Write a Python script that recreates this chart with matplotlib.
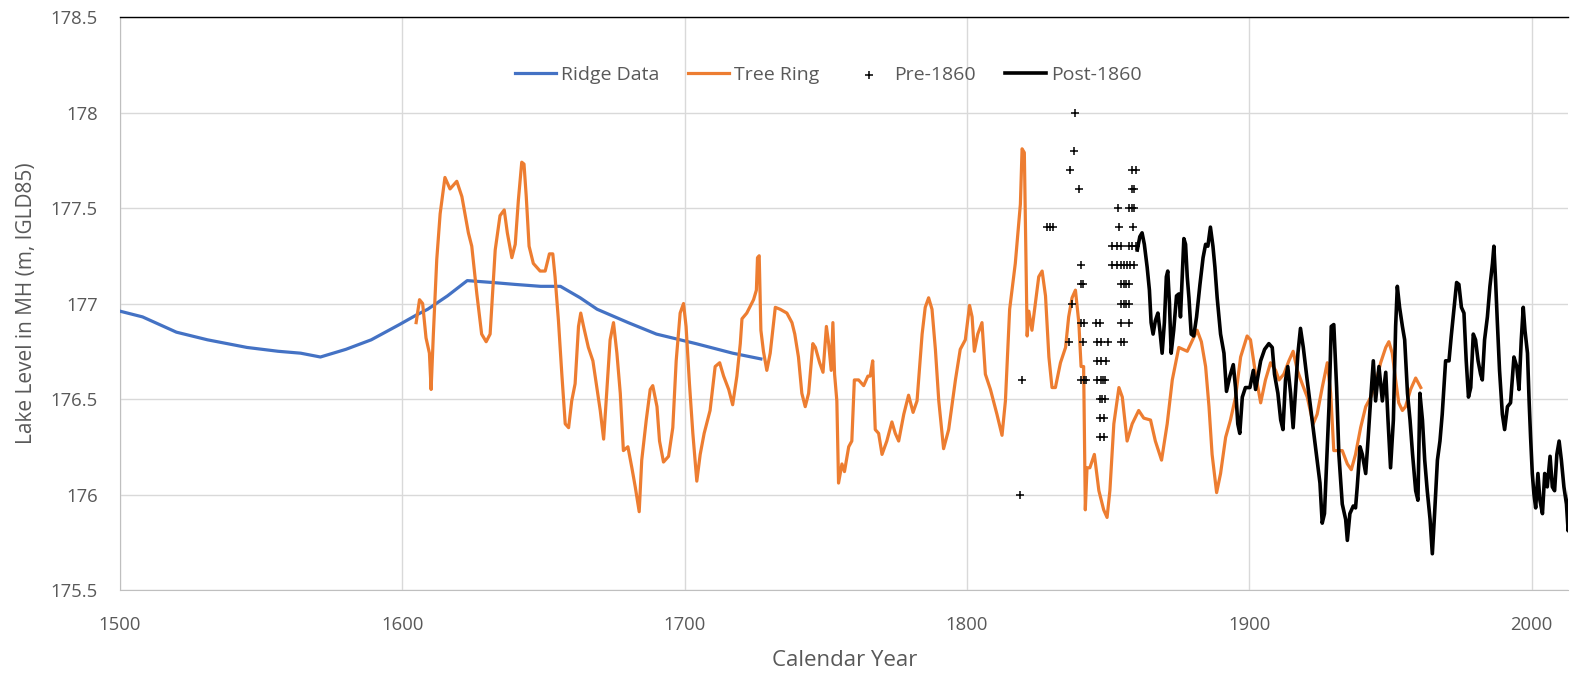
import matplotlib
matplotlib.use("Agg")
import matplotlib.pyplot as plt
from matplotlib.ticker import FuncFormatter

# ---------------- data ----------------
ridge_years = [1500, 1508, 1520, 1531, 1545, 1556, 1564, 1571, 1580, 1589, 1599, 1605, 1609,
               1616, 1623, 1632, 1640, 1649, 1656, 1663, 1669, 1680, 1690, 1704, 1717, 1727]
ridge_vals = [176.96, 176.93, 176.85, 176.81, 176.77, 176.75, 176.74, 176.72, 176.76, 176.81,
              176.89, 176.94, 176.97, 177.04, 177.12, 177.11, 177.10, 177.09, 177.09, 177.03,
              176.97, 176.90, 176.84, 176.79, 176.74, 176.71]

tree_years = [1604.9, 1606.1, 1607.2, 1608.4, 1609.6, 1610.2, 1611.0, 1612.2, 1613.4, 1615.1,
              1616.9, 1619.3, 1621.1, 1623.4, 1624.6, 1626.4, 1628.1, 1629.7, 1631.1, 1632.9,
              1634.6, 1636.1, 1637.2, 1638.8, 1640.0, 1641.1, 1642.3, 1643.1, 1643.9, 1644.9,
              1646.4, 1648.8, 1650.6, 1652.1, 1653.3, 1654.1, 1655.3, 1656.5, 1657.7, 1658.9,
              1660.0, 1661.2, 1662.4, 1663.2, 1664.2, 1665.9, 1667.5, 1668.9, 1670.1, 1671.3,
              1672.2, 1673.6, 1674.8, 1676.0, 1677.2, 1678.3, 1679.9, 1681.3, 1682.5, 1683.9,
              1684.8, 1686.4, 1687.8, 1688.7, 1690.2, 1691.1, 1692.5, 1694.3, 1695.8, 1697.0,
              1698.4, 1699.6, 1700.5, 1701.7, 1702.9, 1704.3, 1705.5, 1706.9, 1709.0, 1710.8,
              1712.4, 1713.8, 1715.6, 1717.0, 1718.5, 1719.7, 1720.3, 1722.0, 1724.4, 1725.4,
              1725.8, 1726.4, 1727.0, 1727.9, 1729.1, 1730.3, 1732.1, 1733.8, 1736.2, 1738.0,
              1739.0, 1740.3, 1741.5, 1742.7, 1743.9, 1745.4, 1746.3, 1747.8, 1749.0, 1750.2,
              1751.0, 1751.9, 1752.5, 1753.1, 1753.9, 1754.5, 1755.7, 1756.6, 1758.1, 1759.2,
              1760.1, 1761.6, 1763.4, 1764.9, 1765.7, 1766.6, 1767.5, 1768.7, 1769.9, 1771.6,
              1773.4, 1774.6, 1775.8, 1777.6, 1779.3, 1780.9, 1782.3, 1784.1, 1785.2, 1786.4,
              1787.6, 1788.8, 1790.0, 1791.7, 1793.5, 1795.9, 1797.6, 1799.4, 1800.9, 1801.8,
              1802.6, 1803.8, 1805.3, 1806.5, 1808.3, 1810.6, 1812.4, 1813.6, 1815.1, 1817.1,
              1818.9, 1819.5, 1820.3, 1820.7, 1821.3, 1821.9, 1823.0, 1824.2, 1825.4, 1826.6,
              1827.8, 1829.0, 1830.1, 1831.3, 1833.1, 1834.9, 1836.0, 1837.2, 1838.4, 1839.6,
              1840.4, 1841.3, 1841.9, 1842.5, 1843.5, 1845.1, 1846.7, 1848.4, 1849.6, 1850.6,
              1852.0, 1853.8, 1855.0, 1856.7, 1858.5, 1860.8, 1862.6, 1865.0, 1866.7, 1868.9,
              1870.9, 1872.7, 1875.0, 1878.0, 1881.5, 1883.0, 1884.5, 1885.7, 1886.8, 1888.4,
              1889.8, 1891.6, 1893.3, 1895.1, 1896.9, 1899.2, 1900.4, 1902.2, 1904.0, 1905.7,
              1907.5, 1909.3, 1910.5, 1912.2, 1914.0, 1915.5, 1917.0, 1918.7, 1920.5, 1922.6,
              1924.0, 1925.8, 1927.6, 1928.8, 1929.9, 1931.1, 1932.9, 1934.7, 1936.1, 1937.6,
              1939.4, 1941.2, 1943.0, 1944.7, 1946.5, 1948.3, 1949.4, 1950.6, 1951.8, 1952.9,
              1954.2, 1955.3, 1957.1, 1958.9, 1960.7]
tree_vals = [176.90, 177.02, 177.00, 176.82, 176.74, 176.55, 176.84, 177.23, 177.47, 177.66,
             177.60, 177.64, 177.56, 177.37, 177.30, 177.05, 176.84, 176.80, 176.84, 177.28,
             177.46, 177.49, 177.37, 177.24, 177.31, 177.54, 177.74, 177.73, 177.56, 177.30,
             177.21, 177.17, 177.17, 177.26, 177.26, 177.14, 176.91, 176.63, 176.37, 176.35,
             176.49, 176.58, 176.88, 176.95, 176.88, 176.77, 176.70, 176.56, 176.44, 176.29,
             176.49, 176.81, 176.90, 176.74, 176.53, 176.23, 176.25, 176.14, 176.04, 175.91,
             176.18, 176.39, 176.55, 176.57, 176.46, 176.28, 176.17, 176.20, 176.35, 176.70,
             176.95, 177.00, 176.88, 176.58, 176.32, 176.07, 176.21, 176.32, 176.44, 176.67,
             176.69, 176.62, 176.55, 176.47, 176.62, 176.79, 176.92, 176.95, 177.02, 177.07,
             177.24, 177.25, 176.86, 176.75, 176.65, 176.74, 176.98, 176.97, 176.95, 176.90,
             176.84, 176.72, 176.53, 176.46, 176.53, 176.79, 176.77, 176.69, 176.64, 176.88,
             176.79, 176.65, 176.90, 176.63, 176.49, 176.06, 176.16, 176.12, 176.25, 176.28,
             176.60, 176.60, 176.57, 176.62, 176.62, 176.70, 176.34, 176.32, 176.21, 176.28,
             176.38, 176.32, 176.28, 176.42, 176.52, 176.43, 176.49, 176.84, 176.98, 177.03,
             176.97, 176.76, 176.49, 176.24, 176.34, 176.60, 176.76, 176.81, 176.99, 176.93,
             176.75, 176.84, 176.90, 176.63, 176.55, 176.42, 176.31, 176.49, 176.97, 177.21,
             177.52, 177.81, 177.79, 177.42, 176.83, 176.96, 176.86, 177.00, 177.14, 177.17,
             177.04, 176.72, 176.56, 176.56, 176.69, 176.77, 176.93, 177.03, 177.07, 176.90,
             176.67, 176.67, 175.92, 176.14, 176.14, 176.21, 176.02, 175.92, 175.88, 176.02,
             176.37, 176.56, 176.51, 176.28, 176.37, 176.44, 176.40, 176.39, 176.28, 176.18,
             176.37, 176.60, 176.77, 176.75, 176.86, 176.80, 176.67, 176.46, 176.21, 176.01,
             176.11, 176.30, 176.39, 176.51, 176.72, 176.83, 176.81, 176.63, 176.48, 176.60,
             176.69, 176.65, 176.60, 176.63, 176.70, 176.75, 176.65, 176.58, 176.51, 176.37,
             176.42, 176.56, 176.69, 176.53, 176.23, 176.23, 176.23, 176.16, 176.13, 176.21,
             176.35, 176.46, 176.51, 176.58, 176.69, 176.77, 176.80, 176.74, 176.60, 176.48,
             176.44, 176.46, 176.55, 176.61, 176.56]

pre_years = [1838.4, 1837.8, 1836.6, 1858.5, 1859.7, 1839.8, 1858.5, 1859.3,
             1853.5, 1857.5, 1858.5, 1859.3, 1828.4, 1829.5, 1830.5, 1854.0, 1858.7,
             1851.4, 1853.2, 1854.6, 1857.5, 1858.5, 1859.7,
             1840.4, 1851.4, 1853.2, 1854.6, 1855.5, 1856.7, 1857.9, 1859.1,
             1840.2, 1841.0, 1854.6, 1855.5, 1856.3, 1857.5,
             1837.2, 1854.6, 1855.5, 1856.3, 1857.3,
             1840.2, 1841.3, 1845.8, 1847.0, 1854.6, 1857.3,
             1836.0, 1841.1, 1846.1, 1847.3, 1849.9, 1854.6, 1855.5,
             1846.1, 1847.5, 1849.4,
             1819.5, 1840.2, 1841.3, 1842.3, 1846.1, 1847.3, 1848.2, 1849.0,
             1847.0, 1847.8, 1848.7,
             1847.0, 1848.4,
             1847.0, 1848.4,
             1818.9]
pre_vals = [178.0, 177.8, 177.7, 177.7, 177.7, 177.6, 177.6, 177.6,
            177.5, 177.5, 177.5, 177.5, 177.4, 177.4, 177.4, 177.4, 177.4,
            177.3, 177.3, 177.3, 177.3, 177.3, 177.3,
            177.2, 177.2, 177.2, 177.2, 177.2, 177.2, 177.2, 177.2,
            177.1, 177.1, 177.1, 177.1, 177.1, 177.1,
            177.0, 177.0, 177.0, 177.0, 177.0,
            176.9, 176.9, 176.9, 176.9, 176.9, 176.9,
            176.8, 176.8, 176.8, 176.8, 176.8, 176.8, 176.8,
            176.7, 176.7, 176.7,
            176.6, 176.6, 176.6, 176.6, 176.6, 176.6, 176.6, 176.6,
            176.5, 176.5, 176.5,
            176.4, 176.4,
            176.3, 176.3,
            176.0]

post_years = [1860.3, 1861.2, 1862.0, 1862.8, 1863.8, 1864.6, 1865.2, 1865.9, 1866.7, 1867.6,
              1868.3, 1869.1, 1869.9, 1870.6, 1871.1, 1871.7, 1872.3, 1873.2, 1874.2, 1875.0,
              1875.6, 1876.2, 1876.8, 1877.4, 1878.0, 1878.6, 1879.4, 1880.3, 1881.3, 1882.5,
              1883.6, 1884.5, 1885.3, 1886.2, 1887.1, 1887.8, 1888.6, 1889.8, 1891.0, 1891.9,
              1893.1, 1894.3, 1895.1, 1895.9, 1896.6, 1897.5, 1898.6, 1900.2, 1901.4, 1902.2,
              1904.0, 1905.4, 1906.9, 1908.1, 1908.9, 1910.1, 1911.1, 1911.9, 1912.8, 1913.6,
              1914.6, 1915.5, 1916.4, 1917.2, 1918.1, 1919.1, 1920.3, 1921.4, 1922.6, 1923.8,
              1925.0, 1925.8, 1926.6, 1927.3, 1928.2, 1929.0, 1929.9, 1930.9, 1931.7, 1932.9,
              1934.1, 1934.7, 1935.6, 1936.8, 1937.6, 1938.2, 1939.2, 1940.0, 1941.2, 1942.0,
              1943.0, 1943.9, 1944.7, 1945.9, 1947.1, 1948.3, 1949.1, 1950.0, 1951.0, 1951.8,
              1952.4, 1953.2, 1954.2, 1955.0, 1956.0, 1956.9, 1957.8, 1958.9, 1959.7, 1960.4,
              1961.3, 1962.1, 1963.0, 1964.0, 1964.8, 1965.6, 1966.6, 1967.5, 1968.3, 1969.5,
              1970.7, 1971.5, 1972.5, 1973.4, 1974.2, 1975.1, 1976.0, 1976.8, 1977.6, 1978.4,
              1979.3, 1980.1, 1981.0, 1981.9, 1982.5, 1983.3, 1984.3, 1985.2, 1986.1, 1986.6,
              1987.2, 1987.8, 1988.6, 1989.6, 1990.4, 1991.4, 1992.5, 1993.7, 1994.7, 1995.5,
              1996.3, 1997.0, 1997.6, 1998.5, 1999.1, 1999.6, 2000.2, 2000.8, 2001.4, 2002.2,
              2002.9, 2003.8, 2004.6, 2005.5, 2006.5, 2007.3, 2008.1, 2008.9, 2009.7, 2010.5,
              2011.4, 2012.3, 2012.9, 2013.8]
post_vals = [177.28, 177.35, 177.37, 177.31, 177.19, 177.07, 176.90, 176.84, 176.91, 176.95,
             176.86, 176.74, 176.90, 177.14, 177.17, 177.00, 176.74, 176.86, 177.04, 177.05,
             176.93, 177.14, 177.34, 177.31, 177.14, 177.03, 176.84, 176.83, 176.93, 177.10,
             177.24, 177.31, 177.30, 177.40, 177.30, 177.19, 177.03, 176.84, 176.74, 176.54,
             176.62, 176.68, 176.56, 176.37, 176.32, 176.51, 176.56, 176.56, 176.65, 176.55,
             176.70, 176.76, 176.79, 176.77, 176.63, 176.53, 176.39, 176.34, 176.60, 176.67,
             176.53, 176.35, 176.56, 176.74, 176.87, 176.77, 176.62, 176.49, 176.35, 176.21,
             176.06, 175.85, 175.90, 176.14, 176.46, 176.88, 176.89, 176.56, 176.21, 175.95,
             175.87, 175.76, 175.90, 175.94, 175.93, 176.04, 176.25, 176.21, 176.11, 176.28,
             176.51, 176.70, 176.49, 176.67, 176.49, 176.64, 176.39, 176.14, 176.39, 176.88,
             177.09, 176.98, 176.88, 176.81, 176.53, 176.39, 176.21, 176.02, 175.97, 176.53,
             176.39, 176.18, 176.02, 175.87, 175.69, 175.90, 176.18, 176.28, 176.42, 176.70,
             176.70, 176.83, 176.98, 177.11, 177.10, 176.98, 176.95, 176.70, 176.51, 176.56,
             176.84, 176.81, 176.70, 176.63, 176.60, 176.81, 176.93, 177.09, 177.21, 177.30,
             177.12, 176.91, 176.65, 176.42, 176.34, 176.46, 176.48, 176.72, 176.67, 176.55,
             176.81, 176.98, 176.86, 176.74, 176.48, 176.30, 176.11, 176.00, 175.93, 176.11,
             175.97, 175.90, 176.11, 176.04, 176.20, 176.04, 176.02, 176.21, 176.28, 176.18,
             176.04, 175.95, 175.81, 176.14]

x_ticks = [1500, 1600, 1700, 1800, 1900, 2000]
y_ticks = [175.5, 176, 176.5, 177, 177.5, 178, 178.5]

# ---------------- style ----------------
plt.rcParams['font.family'] = ['Open Sans', 'DejaVu Sans']
GRAY = '#595959'
GRID = '#D9D9D9'

fig = plt.figure(figsize=(15.70, 6.73), dpi=100)
ax = fig.add_axes([0.0764, 0.1233, 0.9226, 0.8514])

ax.plot(ridge_years, ridge_vals, color='#4472C4', lw=2.3, label='Ridge Data', zorder=3)
ax.plot(tree_years, tree_vals, color='#ED7D31', lw=2.3, label='Tree Ring', zorder=3)
ax.scatter(pre_years, pre_vals, marker='+', s=40, color='black', linewidths=1.1,
           label='Pre-1860', zorder=4)
ax.plot(post_years, post_vals, color='black', lw=2.6, label='Post-1860', zorder=4)

ax.set_xlim(1500, 2013)
ax.set_ylim(175.5, 178.5)
ax.set_xticks(x_ticks)
ax.set_yticks(y_ticks)
ax.yaxis.set_major_formatter(FuncFormatter(lambda v, p: ('%g' % v)))
ax.grid(True, color=GRID, lw=1.0, zorder=0)
ax.set_axisbelow(True)
ax.tick_params(axis='both', length=0, labelsize=13.3, colors=GRAY)
ax.tick_params(axis='x', pad=19)
ax.tick_params(axis='y', pad=16)

ax.spines['right'].set_visible(False)
ax.spines['top'].set_color('black')
ax.spines['top'].set_linewidth(1.0)
ax.spines['left'].set_color('#BFBFBF')
ax.spines['bottom'].set_color('#BFBFBF')

ax.set_xlabel('Calendar Year', fontsize=16, color=GRAY, labelpad=11)
ax.set_ylabel('Lake Level in MH (m, IGLD85)', fontsize=15, color=GRAY, labelpad=10)

leg = ax.legend(loc='center', bbox_to_anchor=(0.489, 0.899), ncol=4, frameon=False,
                fontsize=14, handlelength=2.1, columnspacing=1.5, handletextpad=0.25)
for t in leg.get_texts():
    t.set_color(GRAY)

fig.savefig('out.png', dpi=100)
